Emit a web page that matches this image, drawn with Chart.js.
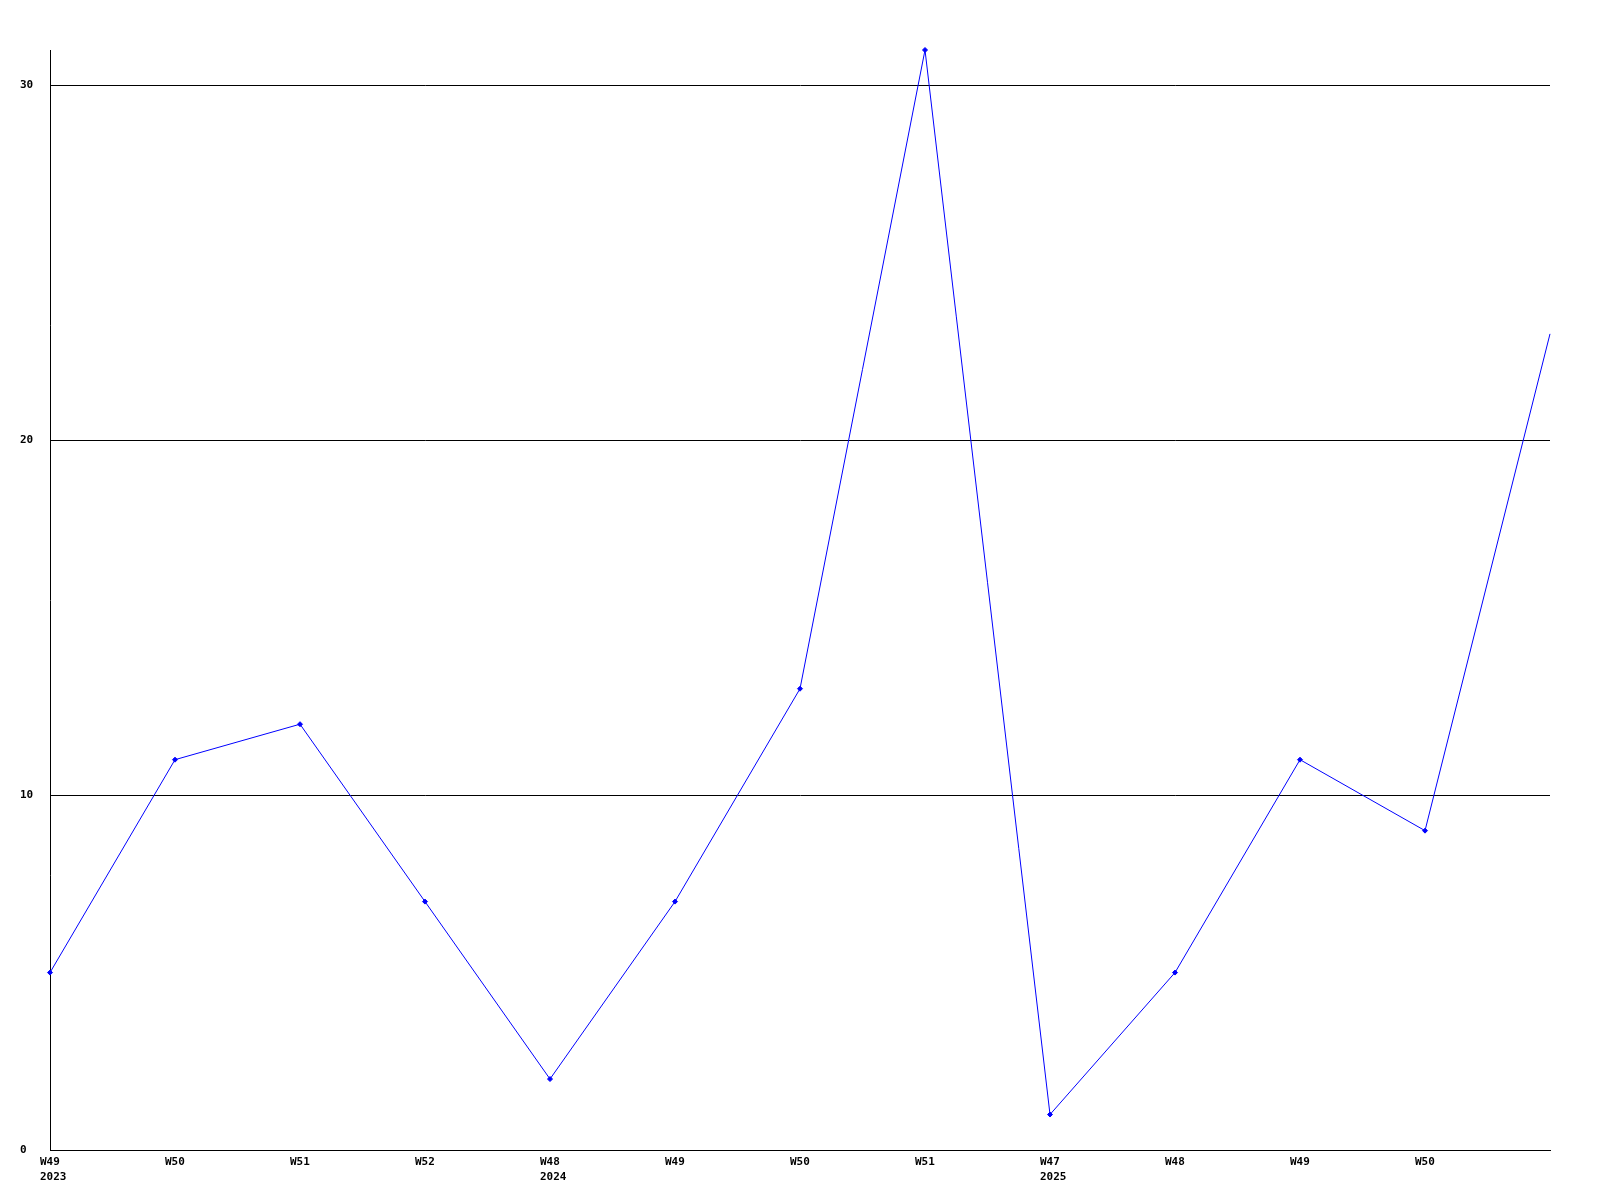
<!DOCTYPE html>
<html>
<head>
<meta charset="utf-8">
<script src="https://cdn.jsdelivr.net/npm/chart.js@4/dist/chart.umd.min.js"></script>
<style>
  html, body { margin: 0; padding: 0; background: #fff; }
  #wrap { width: 1600px; height: 1200px; }
</style>
</head>
<body>
<div id="wrap"><canvas id="chart" width="1600" height="1200"></canvas></div>
<script>
// Weekly counts
const weekLabels = ['W49', 'W50', 'W51', 'W52', 'W48', 'W49', 'W50', 'W51', 'W47', 'W48', 'W49', 'W50', ''];
const yearLabels = ['2023', '', '', '', '2024', '', '', '', '2025', '', '', '', ''];
const counts = [5, 11, 12, 7, 2, 7, 13, 31, 1, 5, 11, 9, 23];
const yTicks = [0, 10, 20, 30];

const labels = weekLabels.map((w, i) => (yearLabels[i] ? [w, yearLabels[i]] : w));
const font = { family: '"DejaVu Sans Mono", monospace', size: 11, weight: 'bold', lineHeight: 1.35 };

new Chart(document.getElementById('chart'), {
  type: 'line',
  data: {
    labels: labels,
    datasets: [
      {
        data: counts,
        borderColor: '#0000ff',
        backgroundColor: '#0000ff',
        borderWidth: 1,
        pointStyle: 'rectRot',
        pointRadius: counts.map((v, i) => (i === counts.length - 1 ? 0 : 2.5)),
        pointBorderWidth: 1,
        tension: 0,
        fill: false,
        clip: false,
      },
    ],
  },
  options: {
    responsive: false,
    animation: false,
    layout: { padding: { top: 50, right: 50, left: 20, bottom: 0 } },
    plugins: {
      legend: { display: false },
      tooltip: { enabled: false },
    },
    scales: {
      x: {
        offset: false,
        grid: { display: false, drawTicks: false },
        border: { display: true, color: '#000', width: 1 },
        ticks: {
          color: '#000',
          font: font,
          autoSkip: false,
          maxRotation: 0,
          align: 'start',
          labelOffset: -10,
          padding: 5,
        },
        afterFit: (scale) => { scale.height = 50; },
      },
      y: {
        min: 0,
        max: 31,
        grid: { color: '#000', lineWidth: 1, drawTicks: false },
        border: { display: true, color: '#000', width: 1 },
        ticks: {
          color: '#000',
          font: font,
          crossAlign: 'far',
          padding: 0,
        },
        afterBuildTicks: (scale) => {
          scale.ticks = yTicks.map((v) => ({ value: v }));
        },
        afterFit: (scale) => { scale.width = 30; },
      },
    },
  },
});
</script>
</body>
</html>
